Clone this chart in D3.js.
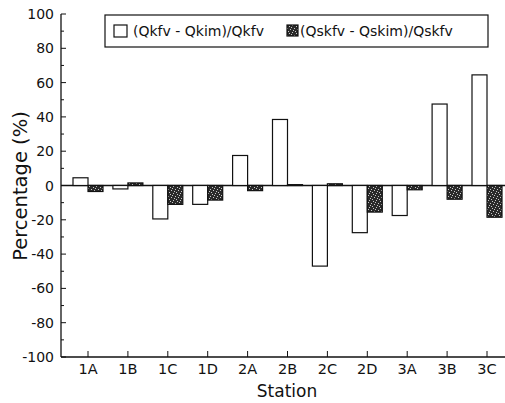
<!DOCTYPE html>
<html>
<head>
<meta charset="utf-8">
<script src="https://cdn.jsdelivr.net/npm/d3@7"></script>
<style>
  body { margin: 0; background: #fff; }
  text { font-family: "DejaVu Sans", Arial, sans-serif; fill: #111; }
</style>
</head>
<body>
<script>
// Data
const stations = ['1A', '1B', '1C', '1D', '2A', '2B', '2C', '2D', '3A', '3B', '3C'];
const qk = [4.5, -2, -19.5, -11, 17.5, 38.5, -47, -27.5, -17.5, 47.5, 64.5];
const qsk = [-3.5, 1.5, -11, -8.5, -3, 0.5, 1, -15.5, -2.5, -8, -18.5];
const yTicks = [100, 80, 60, 40, 20, 0, -20, -40, -60, -80, -100];
const seriesNames = ['(Qkfv - Qkim)/Qkfv', '(Qskfv - Qskim)/Qskfv'];

let width = 505, height = 403;
let margin = { top: 14, bottom: 46, left: 61, right: 0 };

let svg = d3.select('body')
  .append('svg')
    .attr('width', width)
    .attr('height', height);

// speckled dark fill
let defs = svg.append('defs');
let pat = defs.append('pattern')
    .attr('id', 'speck')
    .attr('patternUnits', 'userSpaceOnUse')
    .attr('width', 7)
    .attr('height', 7);
pat.append('rect').attr('width', 7).attr('height', 7).attr('fill', '#2a2a2a');
[[0, 0], [3, 1], [1, 3], [5, 4], [2, 5], [6, 2], [4, 6]].forEach(p => {
  pat.append('rect')
    .attr('x', p[0]).attr('y', p[1])
    .attr('width', 1).attr('height', 1)
    .attr('fill', '#c8c8c8');
});

let yScale = d3.scaleLinear()
  .domain([-100, 100])
  .range([357, margin.top]);

let xScale = d3.scalePoint()
  .domain(stations)
  .range([88, 487]);

let barW = 15;

// axes lines
svg.append('line')
  .attr('x1', margin.left).attr('x2', margin.left)
  .attr('y1', yScale(100)).attr('y2', yScale(-100))
  .attr('stroke', '#111').attr('stroke-width', 1.3);
svg.append('line')
  .attr('x1', margin.left).attr('x2', width)
  .attr('y1', yScale(-100)).attr('y2', yScale(-100))
  .attr('stroke', '#111').attr('stroke-width', 1.3);
svg.append('line')
  .attr('x1', margin.left).attr('x2', width)
  .attr('y1', yScale(0)).attr('y2', yScale(0))
  .attr('stroke', '#111').attr('stroke-width', 1.3);

// y ticks (major inside, minor in between)
svg.selectAll('.ymajor')
  .data(yTicks)
  .enter().append('line')
    .attr('x1', margin.left).attr('x2', margin.left + 5)
    .attr('y1', d => yScale(d)).attr('y2', d => yScale(d))
    .attr('stroke', '#111');
svg.selectAll('.yminor')
  .data(d3.range(-90, 100, 20))
  .enter().append('line')
    .attr('x1', margin.left).attr('x2', margin.left + 3)
    .attr('y1', d => yScale(d)).attr('y2', d => yScale(d))
    .attr('stroke', '#111');
svg.selectAll('.ylab')
  .data(yTicks)
  .enter().append('text')
    .attr('x', margin.left - 7)
    .attr('y', d => yScale(d))
    .attr('dy', '0.36em')
    .attr('text-anchor', 'end')
    .style('font-size', '14px')
    .text(d => d);

// x ticks
svg.selectAll('.xtick')
  .data(stations)
  .enter().append('line')
    .attr('x1', d => xScale(d)).attr('x2', d => xScale(d))
    .attr('y1', yScale(-100)).attr('y2', yScale(-100) - 6)
    .attr('stroke', '#111');
svg.selectAll('.xlab')
  .data(stations)
  .enter().append('text')
    .attr('x', d => xScale(d))
    .attr('y', 374)
    .attr('text-anchor', 'middle')
    .style('font-size', '14.5px')
    .text(d => d);

// axis titles
svg.append('text')
  .attr('x', 287).attr('y', 397)
  .attr('text-anchor', 'middle')
  .style('font-size', '17px')
  .text('Station');
svg.append('text')
  .attr('transform', 'translate(27,186) rotate(-90)')
  .attr('text-anchor', 'middle')
  .style('font-size', '19.5px')
  .text('Percentage (%)');

// bars
svg.selectAll('.bar-qk')
  .data(stations)
  .enter().append('rect')
    .attr('x', d => xScale(d) - barW)
    .attr('y', (d, i) => yScale(Math.max(0, qk[i])))
    .attr('width', barW)
    .attr('height', (d, i) => Math.abs(yScale(qk[i]) - yScale(0)))
    .attr('fill', '#fff')
    .attr('stroke', '#111')
    .attr('stroke-width', 1.2);
svg.selectAll('.bar-qsk')
  .data(stations)
  .enter().append('rect')
    .attr('x', d => xScale(d))
    .attr('y', (d, i) => yScale(Math.max(0, qsk[i])))
    .attr('width', barW)
    .attr('height', (d, i) => Math.abs(yScale(qsk[i]) - yScale(0)))
    .attr('fill', 'url(#speck)')
    .attr('stroke', '#111')
    .attr('stroke-width', 1.2);

// legend
let legend = svg.append('g');
legend.append('rect')
  .attr('x', 105).attr('y', 15)
  .attr('width', 383).attr('height', 32)
  .attr('fill', '#fff')
  .attr('stroke', '#111')
  .attr('stroke-width', 1.2);
let legX = [114, 287];
let legT = [133, 300];
legend.selectAll('.sw')
  .data(seriesNames)
  .enter().append('rect')
    .attr('x', (d, i) => legX[i])
    .attr('y', 25)
    .attr('width', (d, i) => i === 0 ? 13 : 11)
    .attr('height', (d, i) => i === 0 ? 12 : 11)
    .attr('fill', (d, i) => i === 0 ? '#fff' : 'url(#speck)')
    .attr('stroke', '#111')
    .attr('stroke-width', 1.2);
legend.selectAll('.lt')
  .data(seriesNames)
  .enter().append('text')
    .attr('x', (d, i) => legT[i])
    .attr('y', 31)
    .attr('dy', '0.36em')
    .style('font-size', '14px')
    .text(d => d);
</script>
</body>
</html>
